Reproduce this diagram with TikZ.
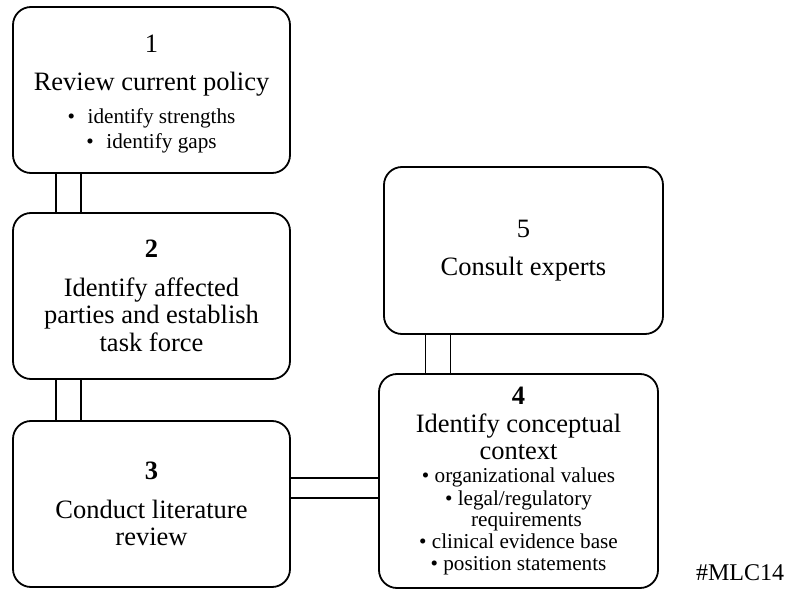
\documentclass[tikz,border=0pt]{standalone}
\usepackage{fontspec}
\setmainfont{Liberation Serif}
\usetikzlibrary{calc,backgrounds}
\newcommand\bsz{\fontsize{21.2}{22}\selectfont}
\begin{document}
\begin{tikzpicture}[x=1pt,y=-1pt,
  box/.style={draw, line width=1.8pt, rounded corners=18pt, fill=white, inner sep=0pt, align=center, font=\fontsize{26.5}{27.3}\selectfont},
  dbl/.style={draw, line width=1.7pt, double, double distance=23.3pt},
  dblh/.style={draw, line width=1.7pt, double, double distance=18.3pt}]
\useasboundingbox (0,0) rectangle (788,597);
\node[box, minimum width=277pt, minimum height=166pt] (b1) at (151.5,90)
  {\rule{0pt}{26pt}1\\[10.7pt]Review current policy\\[6pt]{\bsz •\hspace{0.6em}identify strengths}\\[-2.3pt]{\bsz •\hspace{0.6em}identify gaps}};
\node[box, minimum width=277pt, minimum height=166pt] (b2) at (151.5,296)
  {\textbf{2}\\[11.4pt]Identify affected\\parties and establish\\task force};
\node[box, minimum width=277pt, minimum height=166pt] (b3) at (151.5,504)
  {\textbf{3}\\[11.4pt]Conduct literature\\review};
\node[box, minimum width=279pt, minimum height=167pt] (b5) at (523.5,250.5)
  {5\\[11pt]Consult experts};
\node[box, minimum width=279pt, minimum height=214pt] (b4) at (518.5,481)
  {\textbf{4}\\Identify conceptual\\context\\[-4pt]{\bsz • organizational values}\\[-4.9pt]{\bsz • legal/regulatory}\\[-6.3pt]{\bsz\hspace*{16pt}requirements}\\[-4.7pt]{\bsz • clinical evidence base}\\[-5.9pt]{\bsz • position statements}};
\node[font=\fontsize{24}{26}\selectfont, inner sep=0pt, anchor=base] (tag) at (740,580) {\#MLC14};
\begin{scope}[on background layer]
  \coordinate (c12) at ($(b1.south west)+(56.5,0)$);
  \draw[dbl] (c12) -- (c12 |- b2.north);
  \coordinate (c23) at ($(b2.south west)+(56.5,0)$);
  \draw[dbl] (c23) -- (c23 |- b3.north);
  \coordinate (c54) at ($(b5.south west)+(55,0)$);
  \draw[dbl] (c54) -- (c54 |- b4.north);
  \coordinate (c34) at ($(b3.north east)+(0,68)$);
  \draw[dblh] (c34) -- (c34 -| b4.west);
\end{scope}
\end{tikzpicture}
\end{document}
